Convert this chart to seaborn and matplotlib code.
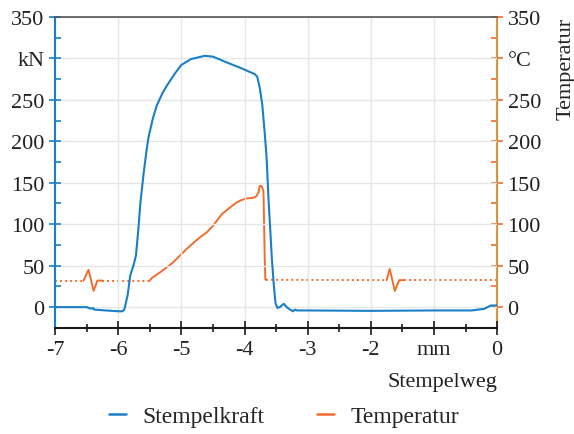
import pandas as pd
import matplotlib.pyplot as plt
import seaborn as sns
from matplotlib.ticker import MultipleLocator

sns.set_style("white")
plt.rcParams['font.family'] = ['Liberation Serif', 'DejaVu Serif']
plt.rcParams['mathtext.fontset'] = 'stix'

blue = '#1a7fc6'
orange = '#f26d2d'
spine_orange = '#d9872c'

# Stempelkraft (kN) over Stempelweg (mm)
force_x = [-7.0, -6.5, -6.47, -6.42, -6.40, -6.38, -6.2, -6.0, -5.93, -5.90, -5.85, -5.81, -5.76,
           -5.72, -5.68, -5.65, -5.60, -5.55, -5.52, -5.45, -5.39, -5.30, -5.23, -5.10, -5.00,
           -4.85, -4.63, -4.50, -4.28, -4.05, -3.84, -3.80, -3.76, -3.72, -3.68, -3.65, -3.62,
           -3.59, -3.57, -3.54, -3.51, -3.48, -3.44, -3.38, -3.33, -3.28, -3.23, -3.20, -3.17,
           -3.0, -2.0, -1.0, -0.4, -0.2, -0.1, 0.0]
force_y = [0, 0, -1, -2, -1, -3, -4, -5, -5, -2, 15, 38, 50,
           62, 95, 125, 160, 190, 205, 228, 243, 258, 267, 282, 292,
           299, 303, 302, 295, 288, 281, 278, 265, 245, 210, 180, 130,
           90, 62, 30, 5, -1, 0, 4, 0, -3, -5, -3, -4,
           -4, -4.5, -4, -4, -2, 2, 2]

# Temperatur (°C); even segments = no measurement (dotted), odd = measured (solid)
temp_x = [-7.0, -6.55,
          -6.55, -6.47, -6.39, -6.33, -6.25,
          -6.25, -5.5,
          -5.5, -5.47, -5.30, -5.13, -4.92, -4.80, -4.71, -4.60, -4.50, -4.42, -4.36, -4.25,
          -4.13, -4.05, -3.97, -3.85, -3.81, -3.78, -3.76, -3.73, -3.70, -3.69, -3.68, -3.67, -3.66,
          -3.66, -1.75,
          -1.75, -1.70, -1.62, -1.55, -1.47,
          -1.47, 0.0]
temp_y = [32, 32,
          32, 45, 19.6, 32, 32,
          32, 32,
          32, 35, 44, 54, 70, 78, 84, 90, 98, 106, 112, 119,
          126, 129, 131, 132, 134, 138, 146, 146, 140, 100, 58, 33, 33,
          33, 32.5,
          32.5, 46, 19.6, 32.5, 32.5,
          32.5, 32.5]
temp_seg = [0, 0,
            1, 1, 1, 1, 1,
            2, 2,
            3, 3, 3, 3, 3, 3, 3, 3, 3, 3, 3, 3,
            3, 3, 3, 3, 3, 3, 3, 3, 3, 3, 3, 3, 3,
            4, 4,
            5, 5, 5, 5, 5,
            6, 6]

y_ticks = [0, 50, 100, 150, 200, 250, 300, 350]
left_labels = ['0', '50', '100', '150', '200', '250', 'kN', '350']
right_labels = ['0', '50', '100', '150', '200', '250', '°C', '350']
x_ticks = [-7, -6, -5, -4, -3, -2, -1, 0]
x_labels = ['-7', '-6', '-5', '-4', '-3', '-2', 'mm', '0']

force = pd.DataFrame({'weg': force_x, 'kraft': force_y})
temp = pd.DataFrame({'weg': temp_x, 'temp': temp_y, 'seg': temp_seg})
temp['dotted'] = temp['seg'] % 2 == 0

fig, ax = plt.subplots(figsize=(5.74, 4.35), dpi=100)
fig.subplots_adjust(left=0.096, right=0.866, bottom=0.244, top=0.959)
ax2 = ax.twinx()

sns.lineplot(data=force, x='weg', y='kraft', ax=ax, color=blue, lw=1.5, sort=False,
             estimator=None, zorder=3)
sns.lineplot(data=temp[~temp['dotted']], x='weg', y='temp', units='seg', estimator=None,
             sort=False, ax=ax2, color=orange, lw=1.4)
sns.lineplot(data=temp[temp['dotted']], x='weg', y='temp', units='seg', estimator=None,
             sort=False, ax=ax2, color=orange, lw=1.4, linestyle=(0, (1, 1.6)))

for a in (ax, ax2):
    a.set_ylim(-25, 350)
    a.set_yticks(y_ticks)
    a.yaxis.set_minor_locator(MultipleLocator(25))
ax.set_xlim(-7, 0)
ax.set_xticks(x_ticks)
ax.set_xticklabels(x_labels)
ax.xaxis.set_minor_locator(MultipleLocator(0.5))
ax.set_yticklabels(left_labels)
ax2.set_yticklabels(right_labels)

ax.grid(True, which='major', color='#e6e6e6', lw=1)
ax.set_axisbelow(True)
ax.set_zorder(ax2.get_zorder() + 1)
ax.patch.set_visible(False)

ax.spines['left'].set_color(blue)
ax.spines['left'].set_linewidth(1.5)
ax.spines['bottom'].set_color('#1a1a1a')
ax.spines['bottom'].set_linewidth(1.5)
ax.spines['top'].set_color('#555555')
ax.spines['top'].set_linewidth(1.2)
ax.spines['right'].set_visible(False)
ax2.spines['right'].set_color(spine_orange)
ax2.spines['right'].set_linewidth(1.5)
for s in ('left', 'top', 'bottom'):
    ax2.spines[s].set_visible(False)

ax.tick_params(axis='y', which='major', direction='inout', length=9, width=1.2, color=blue,
               labelsize=16, labelcolor='#222222', left=True, pad=3)
ax.tick_params(axis='y', which='minor', direction='in', length=4, width=1.2, color=blue, left=True)
ax.tick_params(axis='x', which='major', direction='inout', length=10, width=1.2, color='#1a1a1a',
               labelsize=16, labelcolor='#222222', bottom=True, pad=4)
ax.tick_params(axis='x', which='minor', direction='inout', length=6, width=1.2, color='#1a1a1a',
               bottom=True)
ax2.tick_params(axis='y', which='major', direction='inout', length=9, width=1.2, color=orange,
                labelsize=16, labelcolor='#222222', right=True, pad=3)
ax2.tick_params(axis='y', which='minor', direction='in', length=4, width=1.2, color=orange,
                right=True)

ax.set_ylabel('')
ax.set_xlabel('Stempelweg', fontsize=16, loc='right', labelpad=9, color='#222222')
ax2.set_ylabel('Temperatur', fontsize=16, loc='top', labelpad=11, color='#222222')

handles = [plt.Line2D([], [], color=blue, lw=1.8), plt.Line2D([], [], color=orange, lw=1.8)]
fig.legend(handles, ['Stempelkraft', 'Temperatur'], loc='center', bbox_to_anchor=(0.495, 0.04),
           ncol=2, frameon=False, fontsize=17, handlelength=0.75, columnspacing=2.2,
           handletextpad=0.7)

plt.savefig('out.png', dpi=100)
